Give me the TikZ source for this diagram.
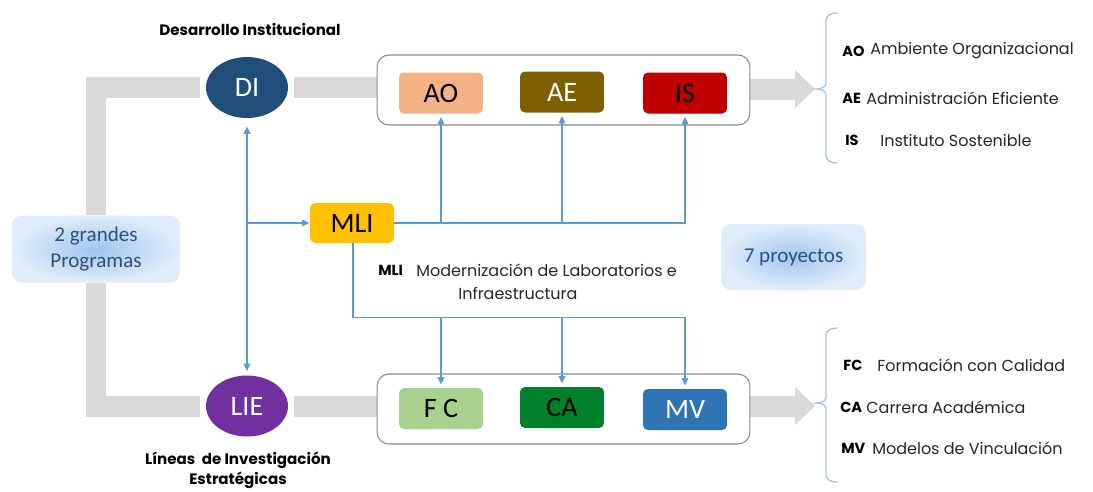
\documentclass[tikz,border=0pt]{standalone}
\usepackage{fontspec}
\setmainfont{Carlito}
\newfontfamily\gothic{Poppins}
\usetikzlibrary{arrows.meta,calc,shapes.geometric}
\pgfdeclarelayer{background}
\pgfsetlayers{background,main}
\definecolor{bandgray}{HTML}{D9D9D9}
\definecolor{lineblue}{HTML}{5B9BD5}
\definecolor{dicol}{HTML}{1F4E79}
\definecolor{liecol}{HTML}{7030A0}
\definecolor{aocol}{HTML}{F4B183}
\definecolor{aecol}{HTML}{7F6000}
\definecolor{iscol}{HTML}{C00000}
\definecolor{fccol}{HTML}{A9D18E}
\definecolor{cacol}{HTML}{00802B}
\definecolor{mvcol}{HTML}{2E75B6}
\definecolor{mlicol}{HTML}{FFC000}
\definecolor{softin}{HTML}{A2C6F0}
\definecolor{softout}{HTML}{E0ECF9}
\definecolor{softtext}{HTML}{2F5080}
\definecolor{brkcol}{HTML}{A6C4EA}
\definecolor{legtext}{HTML}{262626}
\definecolor{contborder}{HTML}{8C8C8C}
\begin{document}
\begin{tikzpicture}[x=0.02cm,y=-0.02cm,
  band/.style={draw=bandgray, line width=0.42cm},
  bl/.style={draw=lineblue, line width=0.85pt},
  tipb/.style={-{Triangle[length=0.15cm,width=0.13cm]}},
  pbox/.style={rectangle, rounded corners=0.1cm, minimum width=1.68cm, minimum height=0.82cm, inner sep=0pt, font=\fontsize{16}{18}\selectfont},
  cont/.style={rectangle, draw=contborder, rounded corners=0.24cm, minimum width=7.46cm, minimum height=1.4cm, fill=white, line width=0.6pt},
  circ/.style={ellipse, minimum width=1.64cm, minimum height=1.22cm, inner sep=0pt, text=white, font=\fontsize{16}{18}\selectfont},
  soft/.style={rectangle, rounded corners=0.2cm, inner color=softin, outer color=softout, text=softtext, font=\fontsize{12}{15}\selectfont, align=center, inner sep=0pt},
  legb/.style={anchor=west, font=\gothic\bfseries\fontsize{8.3}{11}\selectfont, inner sep=0pt},
  legt/.style={anchor=west, font=\gothic\fontsize{9.1}{11}\selectfont, text=legtext, inner sep=0pt},
  ttl/.style={font=\gothic\bfseries\fontsize{8.6}{11.5}\selectfont, align=center, inner sep=0pt},
  brk/.style={draw=brkcol, line width=0.8pt}
]
\useasboundingbox (0,0) rectangle (1093,491);

% containers
\node[cont] (TOP) at (563.5,90) {};
\node[cont] (BOT) at (563.5,409) {};

% project boxes
\node[pbox, fill=aocol] (AO) at (441,93) {AO};
\node[pbox, fill=aecol, text=white] (AE) at (562,92) {AE};
\node[pbox, fill=iscol] (IS) at (685,93) {IS};
\node[pbox, fill=fccol] (FC) at (441,408.5) {F C};
\node[pbox, fill=cacol] (CA) at (562,407.5) {CA};
\node[pbox, fill=mvcol, text=white] (MV) at (685,409.5) {MV};
\node[pbox, fill=mlicol, minimum height=0.8cm] (MLI) at (352,223) {MLI};

% programs
\node[circ, fill=dicol] (DI) at (247,87.5) {DI};
\node[circ, fill=liecol] (LIE) at (247,406) {LIE};

% soft boxes
\node[soft, minimum width=3.36cm, minimum height=1.34cm] (PROG) at (96,249) {2 grandes\\Programas};
\node[soft, minimum width=2.9cm, minimum height=1.32cm] (PROY) at (793.5,257) {7 proyectos};

% titles
\node[ttl] (tDI) at (250,30) {Desarrollo Institucional};
\node[ttl] (tLIE) at (238,470) {L\'ineas\ \ de Investigaci\'on\\Estrat\'egicas};

% gray bands
\coordinate (arrT) at (815,89);
\coordinate (arrB) at (815,406);
\begin{pgfonlayer}{background}
\draw[band] (PROG.north -| 96,0) |- ($(DI.west)+(-6,0)$);
\draw[band] ($(DI.east)+(6,0)$) -- (TOP.west |- DI);
\draw[band, -{Triangle[length=0.4cm 0 0, width=0.74cm 0 0]}] (TOP.east |- arrT) -- (arrT);
\draw[band] (PROG.south -| 96,0) |- ($(LIE.west)+(-6,0)$);
\draw[band] ($(LIE.east)+(6,0)$) -- (BOT.west |- LIE);
\draw[band, -{Triangle[length=0.4cm 0 0, width=0.74cm 0 0]}] (BOT.east |- arrB) -- (arrB);
\end{pgfonlayer}

% blue connectors
\draw[bl, {Triangle[length=0.15cm,width=0.13cm]}-{Triangle[length=0.15cm,width=0.13cm]}, shorten <=0.16cm, shorten >=0.08cm] (DI.south) -- (LIE.north);
\coordinate (j1) at (DI.south |- MLI.west);
\draw[bl, tipb] (j1) -- (MLI.west);
\draw[bl, tipb, shorten >=0.06cm] (MLI.east) -| (IS.south);
\draw[bl, tipb, shorten >=0.06cm] (MLI.east -| AO.south) -- (AO.south);
\draw[bl, tipb, shorten >=0.06cm] (MLI.east -| AE.south) -- (AE.south);
\coordinate (j2) at ($(MLI.south)+(1,74)$);
\draw[bl, tipb, shorten >=0.06cm] ($(MLI.south)+(1,0)$) -- (j2) -| (MV.north);
\draw[bl, tipb, shorten >=0.06cm] (j2 -| FC.north) -- (FC.north);
\draw[bl, tipb, shorten >=0.06cm] (j2 -| CA.north) -- (CA.north);

% MLI legend
\node[legb] (lMLI) at (378,270) {MLI};
\node[legt] (dMLI) at (416,270) {Modernizaci\'on de Laboratorios e};
\node[legt] (dMLI2) at (458,293) {Infraestructura};

% brackets
\draw[brk] (837,13) to[out=180,in=90] (826,20) -- (826,83) to[out=-90,in=0] (817,89) to[out=0,in=90] (826,95) -- (826,156) to[out=-90,in=180] (837,163);
\draw[brk] (837,328) to[out=180,in=90] (826,335) -- (826,397) to[out=-90,in=0] (817,403) to[out=0,in=90] (826,409) -- (826,475) to[out=-90,in=180] (837,482);

% legends top
\node[legb] (lAO) at (842,51) {AO};
\node[legt] (dAO) at (870,51) {Ambiente Organizacional};
\node[legb] (lAE) at (842,98) {AE};
\node[legt] (dAE) at (866,98) {Administraci\'on Eficiente};
\node[legb] (lIS) at (845,140) {IS};
\node[legt] (dIS) at (880,140) {Instituto Sostenible};

% legends bottom
\node[legb] (lFC) at (843,365) {FC};
\node[legt] (dFC) at (877,365) {Formaci\'on con Calidad};
\node[legb] (lCA) at (840,407) {CA};
\node[legt] (dCA) at (866,407) {Carrera Acad\'emica};
\node[legb] (lMV) at (841,448) {MV};
\node[legt] (dMV) at (872,448) {Modelos de Vinculaci\'on};
\end{tikzpicture}
\end{document}
